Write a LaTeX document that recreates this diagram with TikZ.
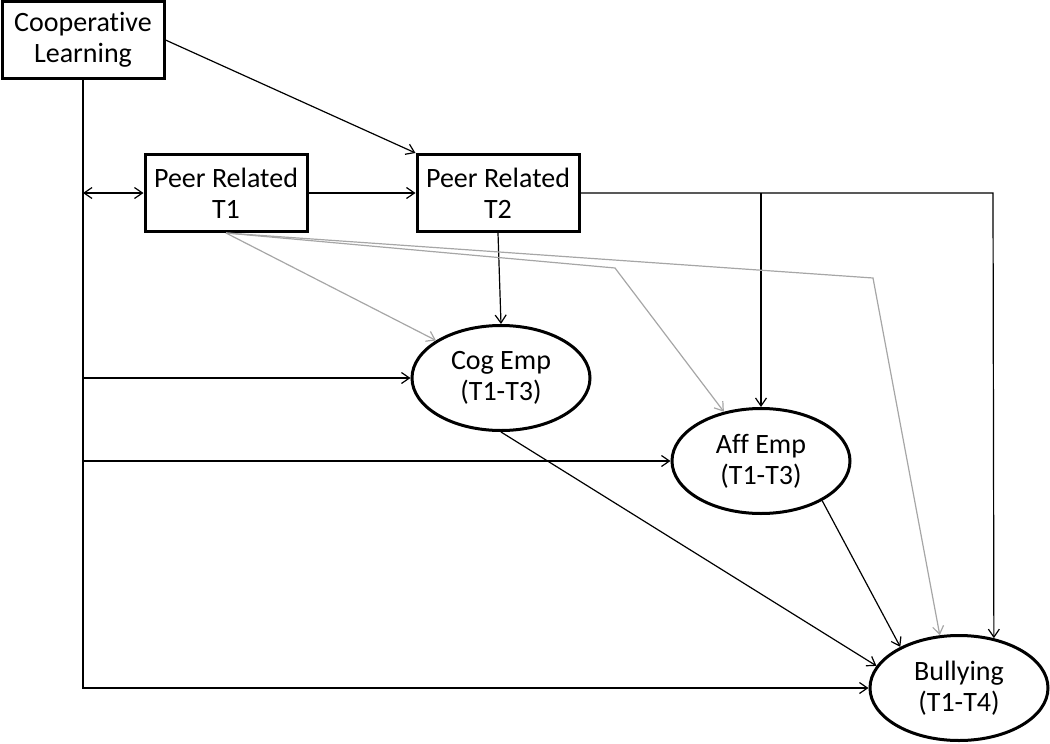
\documentclass[tikz,border=0pt]{standalone}
\usepackage{fontspec}
\setmainfont[Ligatures=NoCommon]{Carlito}
\usetikzlibrary{shapes,arrows.meta,positioning,calc}

\begin{document}
\begin{tikzpicture}[x=0.5pt,y=-0.5pt,
  >={Straight Barb[length=4pt,width=5.5pt]},
  font=\fontsize{14}{15.5}\selectfont,
  box/.style={draw,line width=1.5pt,minimum width=81pt,minimum height=38.5pt,align=center,inner sep=0pt},
  latent/.style={draw,ellipse,line width=1.5pt,minimum width=89pt,minimum height=52.5pt,align=center,inner sep=0pt},
  path/.style={->,line width=0.6pt},
  weak/.style={->,line width=0.6pt,black!35}]

\useasboundingbox (0,0) rectangle (1050,744);

% observed variables
\node [box] (coop) at (83,40) {Cooperative\\Learning};
\node [box] (pr1) at (226,193) {Peer Related\\T1};
\node [box] (pr2) at (498,193) {Peer Related\\T2};

% latent variables
\node [latent] (cog) at (501,378) {Cog Emp\\(T1-T3)};
\node [latent] (aff) at (761,461) {Aff Emp\\(T1-T3)};
\node [latent] (bully) at (959,688) {Bullying\\(T1-T4)};

\coordinate (b1) at (615,268);
\coordinate (b2) at (873,278);
\coordinate (r) at (993,193);

% paths from cooperative learning
\draw [path] (coop.east) -- (pr2.north west);
\draw [path] (coop.south) |- (bully.west);
\draw [path,<->] (coop.south |- pr1.west) -- (pr1.west);
\draw [path] (coop.south |- cog.west) -- (cog.west);
\draw [path] (coop.south |- aff.west) -- (aff.west);

% peer relations
\draw [path] (pr1.east) -- (pr2.west);
\draw [path] (pr2.south) -- (cog.north);
\draw [path] (pr2.east) -- (r) -- (bully.55);
\draw [path] (pr2.east -| aff.north) -- (aff.north);

% empathy to bullying
\draw [path] (cog.south) -- (bully.165);
\draw [path] (aff.-33) -- (bully.145);

% grey paths from T1
\draw [weak] (pr1.south) -- (cog.150);
\draw [weak] (pr1.south) -- (b1) -- (aff.127);
\draw [weak] (pr1.south) -- (b2) -- (bully.110);

\end{tikzpicture}
\end{document}
